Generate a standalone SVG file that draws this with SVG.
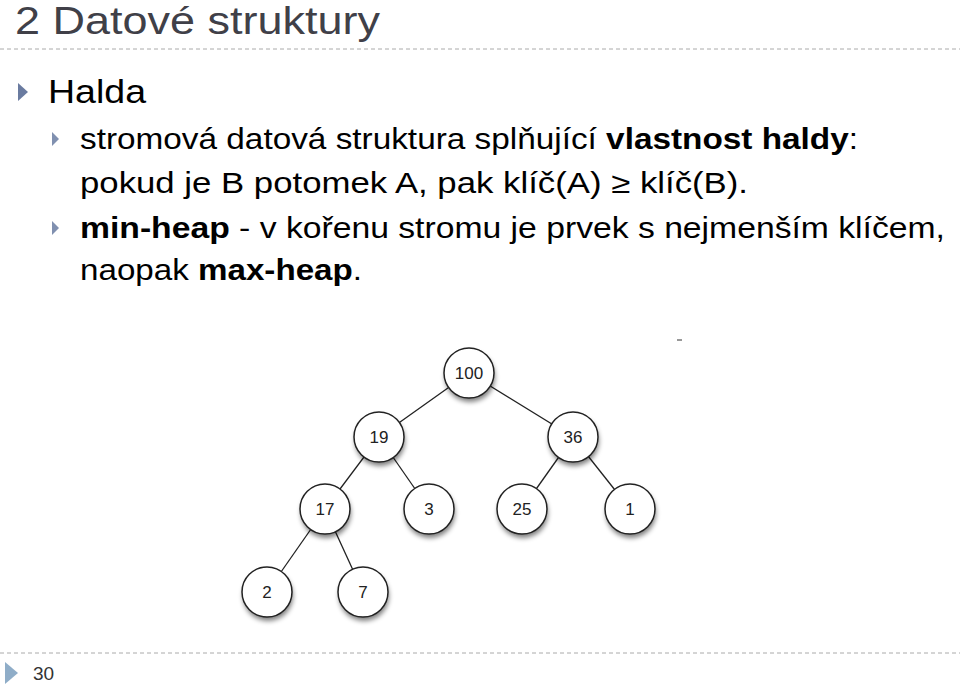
<svg xmlns="http://www.w3.org/2000/svg" width="960" height="686" viewBox="0 0 960 686">
<defs>
<style>
.t{font-family:"Liberation Sans",Arial,sans-serif}
.n circle{fill:#fff;stroke:#222;stroke-width:1.5}
.n text{font-family:"Liberation Sans",Arial,sans-serif;font-size:17px;text-anchor:middle;fill:#222}
.n .sh{fill:#000;stroke:none;opacity:0.5;filter:url(#b)}
</style>
<filter id="b" x="-50%" y="-50%" width="200%" height="200%"><feGaussianBlur stdDeviation="2.5"/></filter>
</defs>
<rect width="960" height="686" fill="#fff"/>
<text class="t" x="15" y="34" font-size="38" fill="#404048" textLength="365" lengthAdjust="spacingAndGlyphs">2 Datové struktury</text>
<line x1="0" y1="49" x2="960" y2="49" stroke="#aaa" stroke-dasharray="4,3"/>
<polygon points="18,83 18,101 28,92" fill="#6a7ba0"/>
<text class="t" x="48" y="103" font-size="34" textLength="98" lengthAdjust="spacingAndGlyphs">Halda</text>
<polygon points="52,132 52,146 59,139" fill="#8090b0"/>
<text class="t" x="80" y="149" font-size="29" textLength="778" lengthAdjust="spacingAndGlyphs">stromová datová struktura splňující <tspan font-weight="bold">vlastnost haldy</tspan>:</text>
<text class="t" x="80" y="193" font-size="29" textLength="668" lengthAdjust="spacingAndGlyphs">pokud je B potomek A, pak klíč(A) ≥ klíč(B).</text>
<polygon points="52,221 52,235 59,228" fill="#8090b0"/>
<text class="t" x="80" y="238" font-size="29" textLength="865" lengthAdjust="spacingAndGlyphs"><tspan font-weight="bold">min-heap</tspan> - v kořenu stromu je prvek s nejmenším klíčem,</text>
<text class="t" x="80" y="280" font-size="29" textLength="282" lengthAdjust="spacingAndGlyphs">naopak <tspan font-weight="bold">max-heap</tspan>.</text>
<line x1="677" y1="340" x2="682" y2="340" stroke="#333"/>
<g id="connectors" stroke="#222" stroke-width="1.3">
<line x1="469" y1="373" x2="379" y2="437"/>
<line x1="469" y1="373" x2="573" y2="437"/>
<line x1="379" y1="437" x2="325" y2="509"/>
<line x1="379" y1="437" x2="429" y2="509"/>
<line x1="573" y1="437" x2="522" y2="509"/>
<line x1="573" y1="437" x2="630" y2="509"/>
<line x1="325" y1="509" x2="267" y2="592"/>
<line x1="325" y1="509" x2="363" y2="592"/>
</g>
<g id="n100" class="n"><circle class="sh" cx="470" cy="377" r="25"/><circle cx="469" cy="373" r="25"/><text x="469" y="379">100</text></g>
<g id="n19" class="n"><circle class="sh" cx="380" cy="441" r="25"/><circle cx="379" cy="437" r="25"/><text x="379" y="443">19</text></g>
<g id="n36" class="n"><circle class="sh" cx="574" cy="441" r="25"/><circle cx="573" cy="437" r="25"/><text x="573" y="443">36</text></g>
<g id="n17" class="n"><circle class="sh" cx="326" cy="513" r="25"/><circle cx="325" cy="509" r="25"/><text x="325" y="515">17</text></g>
<g id="n3" class="n"><circle class="sh" cx="430" cy="513" r="25"/><circle cx="429" cy="509" r="25"/><text x="429" y="515">3</text></g>
<g id="n25" class="n"><circle class="sh" cx="523" cy="513" r="25"/><circle cx="522" cy="509" r="25"/><text x="522" y="515">25</text></g>
<g id="n1" class="n"><circle class="sh" cx="631" cy="513" r="25"/><circle cx="630" cy="509" r="25"/><text x="630" y="515">1</text></g>
<g id="n2" class="n"><circle class="sh" cx="268" cy="596" r="25"/><circle cx="267" cy="592" r="25"/><text x="267" y="598">2</text></g>
<g id="n7" class="n"><circle class="sh" cx="364" cy="596" r="25"/><circle cx="363" cy="592" r="25"/><text x="363" y="598">7</text></g>
<line x1="0" y1="653" x2="960" y2="653" stroke="#aaa" stroke-dasharray="4,3"/>
<polygon points="5,662 5,684 18,673" fill="#8fadc8"/>
<text class="t" x="33" y="680" font-size="19" fill="#333">30</text>
</svg>
